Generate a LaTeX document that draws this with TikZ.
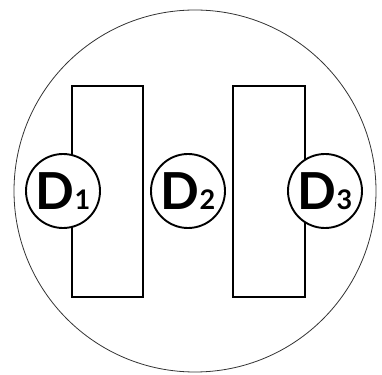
\documentclass[tikz,border=0pt]{standalone}
\usepackage{fontspec}
\setmainfont{Lato}
\usepackage{tikz}
\usetikzlibrary{positioning}
\definecolor{ringgray}{HTML}{333333}
\tikzset{
  ring/.style={circle, draw=ringgray, line width=0.8pt, inner sep=0pt, minimum size=362pt},
  loopline/.style={draw=black, line width=2.6pt, line join=miter},
  detector/.style={circle, draw=black, fill=white, line width=1.9pt, inner sep=0pt, minimum size=74pt}
}
\newcommand{\dlabel}[1]{{\bfseries\fontsize{51}{51}\selectfont D\fontsize{27}{27}\selectfont #1}}

\begin{document}
\begin{tikzpicture}[x=1pt, y=1pt]
  \useasboundingbox (0,0) rectangle (382,374);
  \node[ring] (outer) at (195,183) {};
  % left loop
  \coordinate (ltl) at (72,288);
  \coordinate (ltr) at (143,288);
  \coordinate (lbr) at (143,77);
  \coordinate (lbl) at (72,77);
  \draw[loopline] (ltl) -- (ltr) -- (lbr) -- (lbl) -- cycle;
  % right loop
  \coordinate (rtl) at (233,288);
  \coordinate (rtr) at (305,288);
  \coordinate (rbr) at (305,77);
  \coordinate (rbl) at (233,77);
  \draw[loopline] (rtl) -- (rtr) -- (rbr) -- (rbl) -- cycle;
  % detectors
  \node[detector] (d1) at (63,183) {\dlabel{1}};
  \node[detector] (d2) at (188,183) {\dlabel{2}};
  \node[detector] (d3) at (325,183) {\dlabel{3}};
\end{tikzpicture}
\end{document}
